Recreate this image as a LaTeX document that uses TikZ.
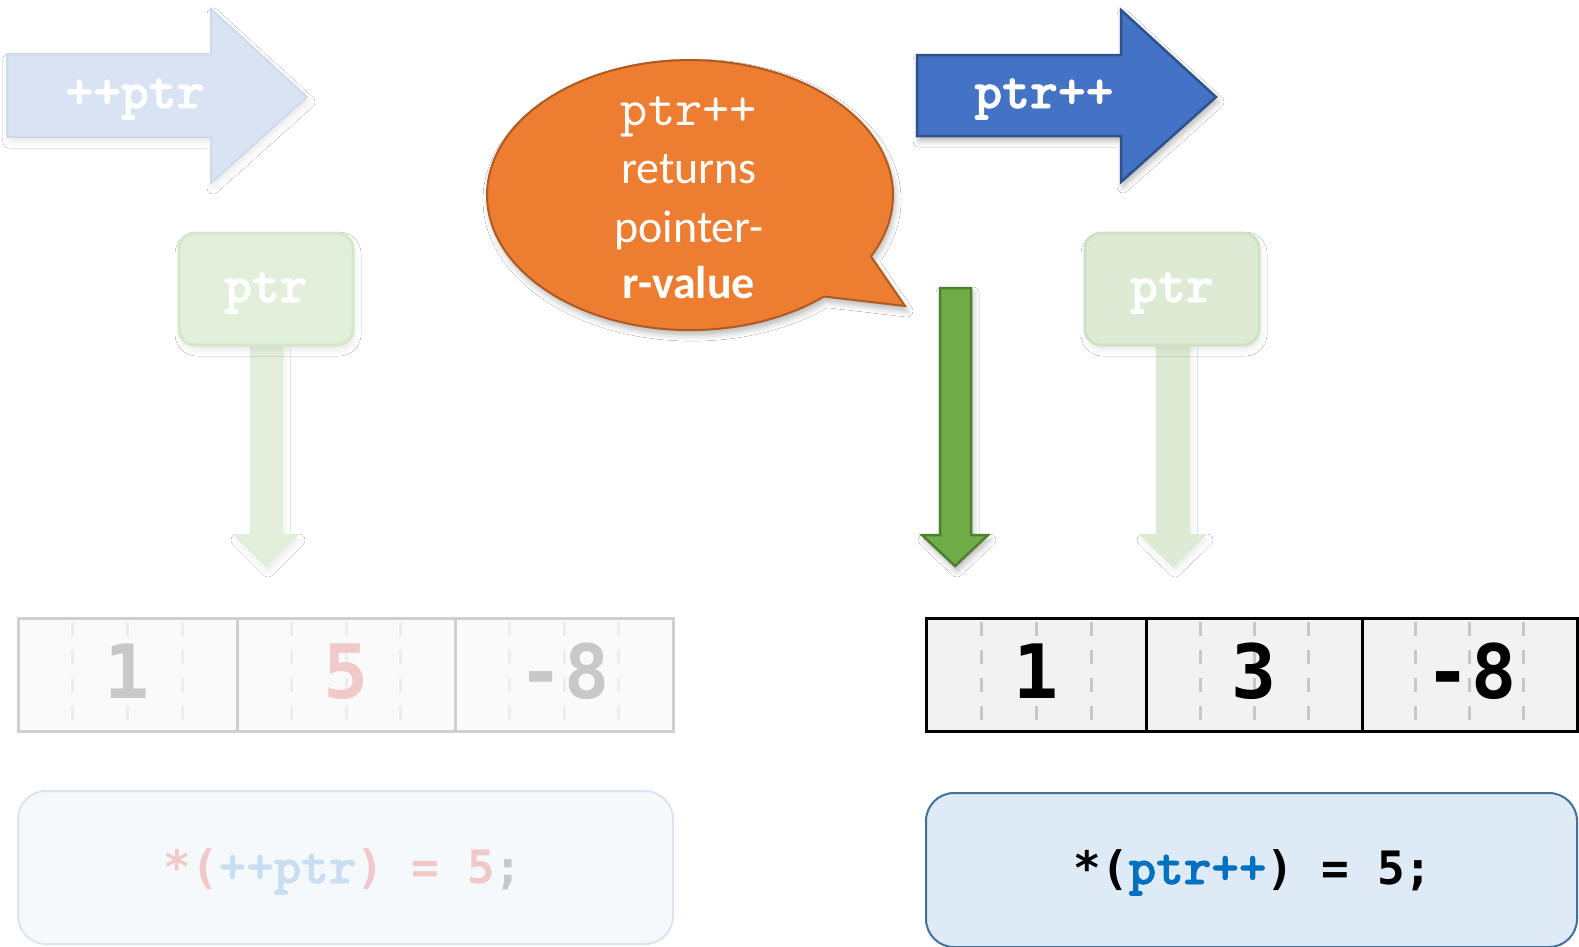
\documentclass[tikz,border=0pt]{standalone}
\usepackage{fontspec}
\newfontfamily\cour{lmmono10-regular.otf}
\newfontfamily\courb{lmmonolt10-bold.otf}[FakeBold=1.6]
\newfontfamily\carl{Carlito}
\newfontfamily\dvm{DejaVu Sans Mono}
\usetikzlibrary{shadows.blur}
\definecolor{fadeblue}{HTML}{DAE3F3}
\definecolor{fadeblueline}{HTML}{CFDAEC}
\definecolor{accblue}{HTML}{4472C4}
\definecolor{accblueline}{HTML}{2F528F}
\definecolor{orangef}{HTML}{ED7D31}
\definecolor{orangeline}{HTML}{AE5A21}
\definecolor{greenf}{HTML}{70AD47}
\definecolor{greenline}{HTML}{507E32}
\definecolor{ptrfill}{HTML}{E2EFDA}
\definecolor{ptrline}{HTML}{D5E7CA}
\definecolor{ptrfillb}{HTML}{DDEBD4}
\definecolor{ptrlineb}{HTML}{D0E2C4}
\definecolor{cellfade}{HTML}{FAFAFA}
\definecolor{cellfadeline}{HTML}{D0D0D0}
\definecolor{cellfill}{HTML}{F2F2F2}
\definecolor{dashfade}{HTML}{EDEDED}
\definecolor{dashdark}{HTML}{C8C8C8}
\definecolor{fadegray}{HTML}{C8C8C8}
\definecolor{fadepink}{HTML}{F2C9C9}
\definecolor{fadecodeblue}{HTML}{C9DEF0}
\definecolor{codefade}{HTML}{F6F9FC}
\definecolor{codefadeline}{HTML}{DCE5EF}
\definecolor{codefill}{HTML}{DEEAF6}
\definecolor{codeline}{HTML}{41719C}
\definecolor{ptrblue}{HTML}{0070C0}
\tikzset{
  shd/.style={blur shadow={shadow xshift=2pt, shadow yshift=-5pt, shadow blur radius=6pt, shadow opacity=28}},
  shdfade/.style={blur shadow={shadow xshift=2pt, shadow yshift=-5pt, shadow blur radius=6pt, shadow opacity=8}},
  fadearrow/.style={fill=fadeblue, draw=fadeblueline, line width=2pt, line join=miter, shdfade},
  mainarrow/.style={fill=accblue, draw=accblueline, line width=2.5pt, line join=miter, shd},
  arrowlabel/.style={text=white, font=\courb\fontsize{53}{56}\selectfont, anchor=base, inner sep=0pt},
  bubble/.style={fill=orangef, draw=orangeline, line width=2pt, shd},
  bubtext/.style={text=white, anchor=base, inner sep=0pt},
  ptrbox/.style={rounded corners=16pt, line width=3pt, minimum width=174pt, minimum height=112pt, inner sep=0pt},
  ptrlabel/.style={text=white, font=\courb\fontsize{53}{56}\selectfont, anchor=base, inner sep=0pt},
  greenarrow/.style={fill=greenf, draw=greenline, line width=2.5pt, line join=miter, shd},
  cellfaded/.style={fill=cellfade, draw=cellfadeline, line width=3pt},
  cellnorm/.style={fill=cellfill, draw=black, line width=3pt},
  dig/.style={font=\dvm\bfseries\fontsize{75}{80}\selectfont, anchor=base, inner sep=0pt},
  dashln/.style={line width=3pt, dash pattern=on 14pt off 14pt},
  codebox/.style={rounded corners=28pt, line width=2pt},
  codetext/.style={font=\fontsize{46}{50}\selectfont, anchor=base, inner sep=0pt},
}
\begin{document}
\begin{tikzpicture}[x=1pt,y=-1pt]
\useasboundingbox (0,0) rectangle (1579,946);
\fill[white] (0,0) rectangle (1579,946);

% ---- top-left faded arrow ++ptr
\draw[fadearrow] (7,54) -- (211,54) -- (211,9) -- (307,97) -- (211,183) -- (211,137) -- (7,137) -- cycle;
\node[arrowlabel] (preinc) at (135,108) {++ptr};

% ---- top-right arrow ptr++
\draw[mainarrow] (917,55) -- (1121,55) -- (1121,10) -- (1216,97) -- (1121,182) -- (1121,136) -- (917,136) -- cycle;
\node[arrowlabel] (postinc) at (1044,108) {ptr++};

% ---- speech bubble
\draw[bubble] (824,296.5) arc[start angle=48.7, end angle=387, x radius=203, y radius=135] -- (905,306) -- cycle;
\node[bubtext, font=\cour\fontsize{52}{55}\selectfont] (b1) at (689,125) {ptr++};
\node[bubtext, font=\carl\fontsize{46}{50}\selectfont] (b2) at (689,183) {returns};
\node[bubtext, font=\carl\fontsize{46}{50}\selectfont] (b3) at (689,242) {pointer-};
\node[bubtext, font=\carl\bfseries\fontsize{46}{50}\selectfont] (b4) at (689,298) {r-value};

% ---- left ptr box + faded arrow
\draw[fill=ptrfill, draw=ptrfill, line width=2pt, line join=miter, shdfade] (251,343) -- (251,535) -- (235,535) -- (266,566) -- (297,535) -- (282,535) -- (282,343) -- cycle;
\node[ptrbox, fill=ptrfill, draw=ptrline, shdfade] (lptr) at (266,289) {};
\node[ptrlabel] (lptrt) at (266,302) {ptr};

% ---- right ptr box + faded arrow
\draw[fill=ptrfillb, draw=ptrfillb, line width=2pt, line join=miter, shdfade] (1157,343) -- (1157,535) -- (1141,535) -- (1173,566) -- (1205,535) -- (1189,535) -- (1189,343) -- cycle;
\node[ptrbox, fill=ptrfillb, draw=ptrlineb, shdfade] (rptr) at (1172,289) {};
\node[ptrlabel] (rptrt) at (1172,302) {ptr};

% ---- green arrow
\draw[greenarrow] (940,288) -- (971,288) -- (971,535) -- (988,535) -- (955,566) -- (922,535) -- (940,535) -- cycle;

% ---- left array (faded)
\foreach \i/\xa/\xb in {1/18/237, 2/237/455, 3/455/673}{
  \draw[cellfaded] (\xa,618) rectangle (\xb,731);
  \foreach \f in {0.25,0.5,0.75}{
    \draw[dashln, draw=dashfade] ({\xa+\f*(\xb-\xa)},622) -- ({\xa+\f*(\xb-\xa)},729);
  }
}
\draw[cellfadeline, line width=3pt] (18,618) rectangle (673,731);
\node[dig, text=fadegray] (l1) at (127,698) {1};
\node[dig, text=fadepink] (l2) at (346,698) {5};
\node[dig, text=fadegray] (l3) at (564,698) {-8};

% ---- right array
\foreach \i/\xa/\xb in {1/926/1146, 2/1146/1362, 3/1362/1577}{
  \draw[cellnorm] (\xa,618) rectangle (\xb,731);
  \foreach \f in {0.25,0.5,0.75}{
    \draw[dashln, draw=dashdark] ({\xa+\f*(\xb-\xa)},622) -- ({\xa+\f*(\xb-\xa)},729);
  }
}
\draw[black, line width=3pt] (926,618) rectangle (1577,731);
\node[dig, text=black] (r1) at (1036,698) {1};
\node[dig, text=black] (r2) at (1254,698) {3};
\node[dig, text=black] (r3) at (1471,698) {-8};

% ---- left code box (faded)
\node[codebox, fill=codefade, draw=codefadeline, minimum width=655pt, minimum height=153pt] (lcode) at (345.5,867.5) {};
\node[codetext] (lcodet) at (343,883) {{\dvm\bfseries\color{fadepink}*(}{\courb\fontsize{52.5}{55}\selectfont\color{fadecodeblue}++ptr}{\dvm\bfseries\color{fadepink}) = 5}{\dvm\bfseries\color{fadegray};}};

% ---- right code box
\node[codebox, fill=codefill, draw=codeline, minimum width=651pt, minimum height=154pt] (rcode) at (1251.5,870) {};
\node[codetext] (rcodet) at (1253,884) {{\dvm\bfseries\color{black}*(}{\courb\fontsize{52.5}{55}\selectfont\color{ptrblue}ptr++}{\dvm\bfseries\color{black}) = 5;}};
\end{tikzpicture}
\end{document}
